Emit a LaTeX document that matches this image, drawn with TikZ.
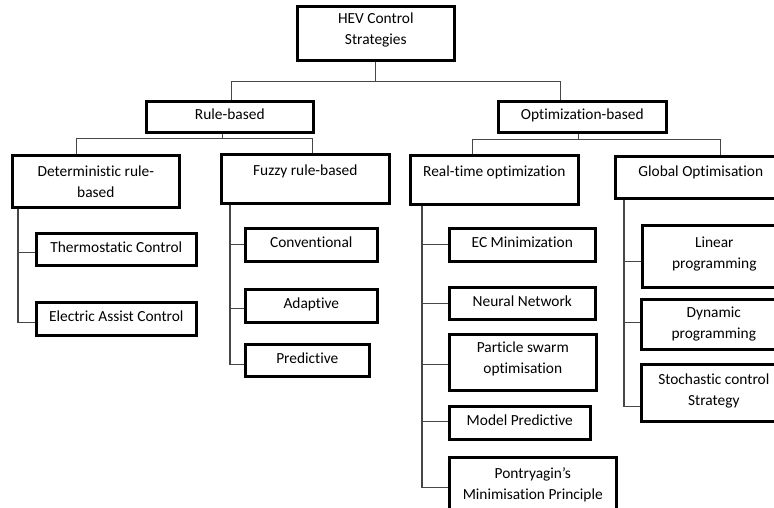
\documentclass[tikz,border=0pt]{standalone}
\usepackage{fontspec}
\setmainfont{Carlito}[Ligatures={NoCommon,NoContextual}]
\begin{document}
\begin{tikzpicture}[x=1pt,y=-1pt,
  box/.style={draw=black, line width=2.6pt, anchor=north west, align=center,
    inner sep=0pt, font=\fontsize{15.4}{21}\selectfont, text=black},
  one/.style={text height=11pt, text depth=5pt},
  conn/.style={draw=black!72, line width=1.3pt}]
\useasboundingbox (0,0) rectangle (774,507);
\clip (0,0) rectangle (774,507);
% level 0
\node[box, minimum width=157pt, minimum height=54pt] (root) at (296,5) {HEV Control\\Strategies\\[-12pt]\mbox{}};
% level 1
\node[box, one, minimum width=167pt, minimum height=31pt] (rb) at (145,100) {Rule-based};
\node[box, one, minimum width=168pt, minimum height=31pt] (ob) at (497,100) {Optimization-based};
% level 2
\node[box, minimum width=167pt, minimum height=52pt] (det) at (11,154) {Deterministic rule-\\based};
\node[box, minimum width=168pt, minimum height=49pt] (fuz) at (220,153) {Fuzzy rule-based\\[-4pt]\mbox{}};
\node[box, minimum width=168pt, minimum height=49pt] (rt) at (409,154) {Real-time optimization\\[-4pt]\mbox{}};
\node[box, minimum width=171pt, minimum height=42pt] (glob) at (614,155) {Global Optimisation\\[-9pt]\mbox{}};
% deterministic children
\node[box, one, minimum width=160pt, minimum height=32pt] (thermo) at (35,232) {Thermostatic Control};
\node[box, one, minimum width=160pt, minimum height=33pt] (elec) at (35,301) {Electric Assist Control};
% fuzzy children
\node[box, one, minimum width=132pt, minimum height=33pt] (conv) at (244,227) {Conventional};
\node[box, one, minimum width=132pt, minimum height=33pt] (adap) at (244,288) {Adaptive};
\node[box, one, minimum width=124pt, minimum height=32pt] (pred) at (244,343) {Predictive};
% real-time children
\node[box, one, minimum width=146pt, minimum height=33pt] (ecm) at (448,227) {EC Minimization};
\node[box, one, minimum width=146pt, minimum height=32pt] (nn) at (448,286) {Neural Network};
\node[box, minimum width=147pt, minimum height=56pt] (pso) at (448,333) {Particle swarm\\optimisation\\[-12pt]\mbox{}};
\node[box, one, minimum width=141pt, minimum height=33pt] (mpc) at (448,405) {Model Predictive};
\node[box, minimum width=167pt, minimum height=56pt] (pmp) at (448,456) {Pontryagin’s\\Minimisation Principle};
% global children
\node[box, minimum width=144pt, minimum height=62pt] (lp) at (641,224) {Linear\\programming\\[-13pt]\mbox{}};
\node[box, minimum width=145pt, minimum height=50pt] (dp) at (640,298) {Dynamic\\programming};
\node[box, minimum width=145pt, minimum height=57pt] (scs) at (640,363) {Stochastic control\\Strategy\\[-15pt]\mbox{}};
% connectors level 0 -> 1
\coordinate (j0) at ([yshift=-20pt]root.south);
\draw[conn] (root.south) -- (j0);
\draw[conn] (j0) -| ([xshift=1.5pt]rb.north);
\draw[conn] (j0) -| ([xshift=-22pt]ob.north);
% rule-based -> level 2
\coordinate (j1) at ([xshift=-7.5pt,yshift=-5pt]rb.south);
\draw[conn] ([xshift=-7.5pt]rb.south) -- (j1);
\draw[conn] (j1) -| ([xshift=-19.5pt]det.north);
\draw[conn] (j1) -| ([xshift=7pt]fuz.north);
% optimization-based -> level 2
\coordinate (j2) at ([xshift=-4pt,yshift=-6pt]ob.south);
\draw[conn] ([xshift=-4pt]ob.south) -- (j2);
\draw[conn] (j2) -| ([xshift=-22pt]rt.north);
\draw[conn] (j2) -| ([xshift=19.5pt]glob.north);
% deterministic children
\coordinate (d0) at ([xshift=7pt]det.south west);
\draw[conn] (d0) |- ([yshift=-3pt]thermo.west);
\draw[conn] (d0) |- ([yshift=-3.5pt]elec.west);
% fuzzy children
\coordinate (f0) at ([xshift=10pt]fuz.south west);
\draw[conn] (f0) |- (conv.west);
\draw[conn] (f0) |- ([yshift=-2.5pt]adap.west);
\draw[conn] (f0) |- ([yshift=-4pt]pred.west);
% real-time children
\coordinate (r0) at ([xshift=13pt]rt.south west);
\draw[conn] (r0) |- (ecm.west);
\draw[conn] (r0) |- (nn.west);
\draw[conn] (r0) |- ([yshift=-2pt]pso.west);
\draw[conn] (r0) |- ([yshift=1.5pt]mpc.west);
\draw[conn] (r0) |- ([yshift=-2pt]pmp.west);
% global children
\coordinate (g0) at ([xshift=10pt]glob.south west);
\draw[conn] (g0) |- ([yshift=-5pt]lp.west);
\draw[conn] (g0) |- ([yshift=2pt]dp.west);
\draw[conn] (g0) |- ([yshift=-13.5pt]scs.west);
\end{tikzpicture}
\end{document}
